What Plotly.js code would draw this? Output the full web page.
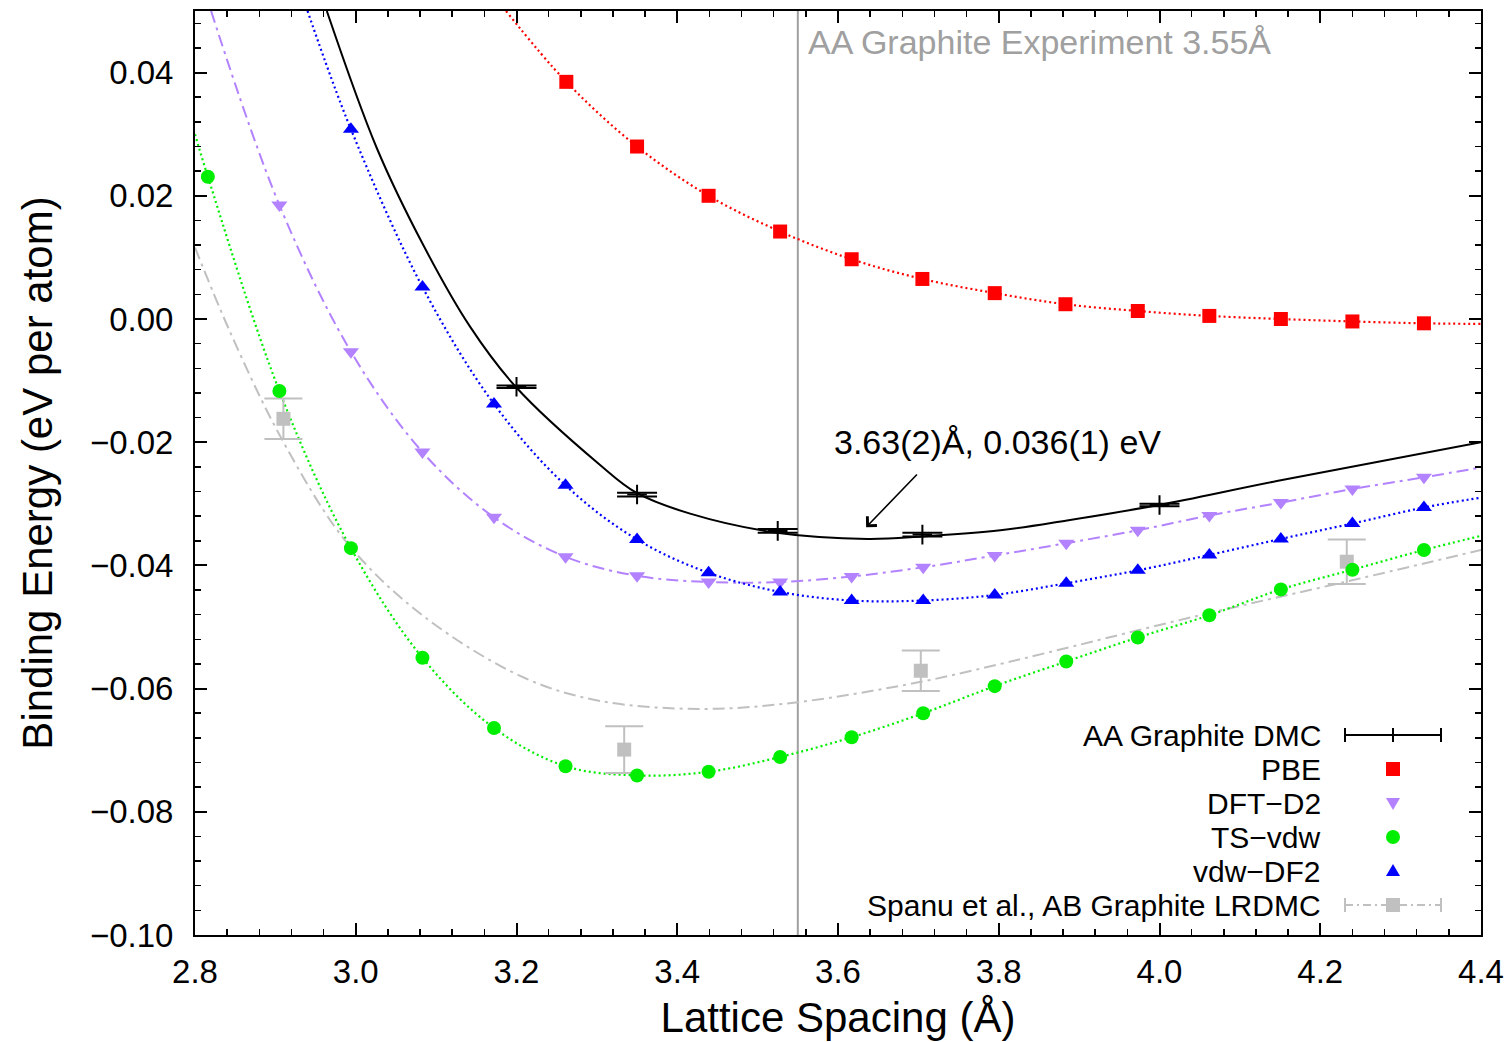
<!DOCTYPE html>
<html>
<head>
<meta charset="utf-8">
<script src="https://cdn.plot.ly/plotly-3.0.1.min.js"></script>
<style>html,body{margin:0;padding:0;background:#fff;}#chart{width:1509px;height:1042px;}</style>
</head>
<body>
<div id="chart"></div>
<script>
// ---- data ----
const pbeX = [3.262, 3.350, 3.439, 3.528, 3.617, 3.705, 3.795, 3.883, 3.973, 4.062, 4.151, 4.240, 4.329];
const pbeY = [0.0385, 0.0280, 0.0200, 0.0142, 0.0097, 0.0065, 0.0042, 0.0024, 0.0013, 0.0005, 0.0000, -0.0004, -0.0007];

const dftd2X = [2.905, 2.994, 3.083, 3.172, 3.261, 3.350, 3.439, 3.528, 3.617, 3.706, 3.795, 3.884, 3.973, 4.062, 4.151, 4.240, 4.329];
const dftd2Y = [0.0185, -0.0053, -0.0216, -0.0322, -0.0386, -0.0417, -0.0427, -0.0427, -0.0418, -0.0403, -0.0384, -0.0364, -0.0343, -0.0319, -0.0298, -0.0276, -0.0257];

const tsX = [2.816, 2.905, 2.994, 3.083, 3.172, 3.261, 3.350, 3.439, 3.528, 3.617, 3.706, 3.795, 3.884, 3.973, 4.062, 4.151, 4.240, 4.329];
const tsY = [0.0231, -0.0117, -0.0372, -0.0550, -0.0664, -0.0726, -0.0741, -0.0735, -0.0711, -0.0679, -0.0640, -0.0596, -0.0556, -0.0517, -0.0481, -0.0439, -0.0407, -0.0375];

const vdwX = [2.994, 3.083, 3.172, 3.261, 3.350, 3.439, 3.528, 3.617, 3.706, 3.795, 3.884, 3.973, 4.062, 4.151, 4.240, 4.329];
const vdwY = [0.0308, 0.0052, -0.0138, -0.0270, -0.0358, -0.0412, -0.0443, -0.0457, -0.0457, -0.0448, -0.0429, -0.0408, -0.0383, -0.0357, -0.0332, -0.0306];

const dmcX = [3.200, 3.350, 3.525, 3.705, 4.000];
const dmcY = [-0.0110, -0.0285, -0.0344, -0.0350, -0.0302];
const dmcErr = [0.0002, 0.0003, 0.0003, 0.0003, 0.0002];

const spanuX = [2.910, 3.334, 3.703, 4.233];
const spanuY = [-0.0162, -0.0699, -0.0571, -0.0394];
const spanuErr = [0.0033, 0.0038, 0.0033, 0.0036];

// fitted curves
const dmcFitX = [2.964, 3.026, 3.084, 3.142, 3.199, 3.304, 3.349, 3.416, 3.524, 3.637, 3.705, 3.802, 3.885, 3.999, 4.146, 4.400];
const dmcFitY = [0.0500, 0.0278, 0.0120, -0.0012, -0.0110, -0.0237, -0.0282, -0.0316, -0.0347, -0.0357, -0.0353, -0.0343, -0.0327, -0.0302, -0.0263, -0.0200];

const spanuFitX = [2.800, 2.844, 2.908, 2.989, 3.084, 3.209, 3.304, 3.432, 3.550, 3.703, 3.802, 3.875, 4.050, 4.237, 4.400];
const spanuFitY = [0.0116, -0.0022, -0.0195, -0.0363, -0.0482, -0.0582, -0.0620, -0.0633, -0.0622, -0.0589, -0.0560, -0.0537, -0.0481, -0.0425, -0.0375];

// ends of the DFT fit curves (beyond the computed points)
const pbeEndsX = [3.187, 4.400],  pbeEndsY = [0.0500, -0.0008];
const dftd2EndsX = [2.820, 4.400], dftd2EndsY = [0.0500, -0.0241];
const tsEndsX = [2.800, 4.400],   tsEndsY = [0.0300, -0.0352];
const vdwEndsX = [2.940, 4.400],  vdwEndsY = [0.0500, -0.0290];

const expSpacing = 3.55;
const minLabel = '3.63(2)Å, 0.036(1) eV';
const xTicks = [2.8, 3.0, 3.2, 3.4, 3.6, 3.8, 4.0, 4.2, 4.4];
const yTicks = [-0.10, -0.08, -0.06, -0.04, -0.02, 0.00, 0.02, 0.04];

const legendNames = ['AA Graphite DMC', 'PBE', 'DFT\u2212D2', 'TS\u2212vdw', 'vdw\u2212DF2', 'Spanu et al., AB Graphite LRDMC'];

// ---- styles ----
const FONT = 'Liberation Sans, Arial, Helvetica, sans-serif';
const RED = '#ff0000', PURPLE = '#b382ff', GREEN = '#00ee00', BLUE = '#0000ff', GREY = '#c0c0c0';
const DOT = '2px,3px';
const DASHDOT = '12px,5px,3px,5px';

function withEnds(ex, ey, x, y) {
  return { x: [ex[0]].concat(x, [ex[1]]), y: [ey[0]].concat(y, [ey[1]]) };
}

function fit(x, y, color, dash, width) {
  return { x: x, y: y, mode: 'lines', type: 'scatter', hoverinfo: 'skip', showlegend: false,
    line: { color: color, width: width || 2, dash: dash, shape: 'spline', smoothing: 1 } };
}

const pbeC = withEnds(pbeEndsX, pbeEndsY, pbeX, pbeY);
const d2C = withEnds(dftd2EndsX, dftd2EndsY, dftd2X, dftd2Y);
const tsC = withEnds(tsEndsX, tsEndsY, tsX, tsY);
const vdwC = withEnds(vdwEndsX, vdwEndsY, vdwX, vdwY);

const traces = [
  fit(spanuFitX, spanuFitY, GREY, DASHDOT, 2),
  fit(tsC.x, tsC.y, GREEN, DOT, 2.2),
  fit(d2C.x, d2C.y, PURPLE, DASHDOT, 2),
  fit(vdwC.x, vdwC.y, BLUE, DOT, 2.2),
  fit(pbeC.x, pbeC.y, RED, DOT, 2.2),
  fit(dmcFitX, dmcFitY, '#000000', 'solid', 2),
  { x: spanuX, y: spanuY, mode: 'markers', type: 'scatter', name: legendNames[5], showlegend: false,
    marker: { symbol: 'square', size: 14, color: GREY },
    error_y: { type: 'data', array: spanuErr, visible: true, color: GREY, thickness: 2, width: 19 } },
  { x: tsX, y: tsY, mode: 'markers', type: 'scatter', name: legendNames[3], showlegend: false,
    marker: { symbol: 'circle', size: 14, color: GREEN } },
  { x: dftd2X, y: dftd2Y, mode: 'markers', type: 'scatter', name: legendNames[2], showlegend: false,
    marker: { symbol: 'triangle-down', size: 14, color: PURPLE } },
  { x: vdwX, y: vdwY, mode: 'markers', type: 'scatter', name: legendNames[4], showlegend: false,
    marker: { symbol: 'triangle-up', size: 14, color: BLUE } },
  { x: pbeX, y: pbeY, mode: 'markers', type: 'scatter', name: legendNames[1], showlegend: false,
    marker: { symbol: 'square', size: 14, color: RED } },
  { x: dmcX, y: dmcY, mode: 'markers', type: 'scatter', name: legendNames[0], showlegend: false,
    marker: { symbol: 'cross-thin', size: 14, color: '#000', line: { color: '#000', width: 2 } },
    error_y: { type: 'data', array: dmcErr, visible: true, color: '#000', thickness: 2, width: 20 } }
];

// ---- legend drawn gnuplot-style (text right, sample to the right) ----
const L = 195, T = 11, PW = 1286, PH = 924;
const px = v => (v - L) / PW;
const py = v => (T + PH - v) / PH;
const rowY = [735, 769, 803, 837, 871, 905];
const textRight = 1323, sampleC = 1393, sampleL = 1345, sampleR = 1441, h = 7;

const shapes = [
  { type: 'line', xref: 'x', yref: 'paper', x0: expSpacing, x1: expSpacing, y0: 0, y1: 1,
    line: { color: '#a0a0a0', width: 2 }, layer: 'below' }
];
function seg(x0, y0, x1, y1, color, dash) {
  shapes.push({ type: 'line', xref: 'paper', yref: 'paper', x0: px(x0), x1: px(x1), y0: py(y0), y1: py(y1),
    line: { color: color, width: 2, dash: dash || 'solid' } });
}
// DMC sample
seg(sampleL, rowY[0], sampleR, rowY[0], '#000');
seg(sampleL, rowY[0] - h, sampleL, rowY[0] + h, '#000');
seg(sampleR, rowY[0] - h, sampleR, rowY[0] + h, '#000');
seg(sampleC, rowY[0] - h, sampleC, rowY[0] + h, '#000');
// PBE
shapes.push({ type: 'rect', xref: 'paper', yref: 'paper', x0: px(sampleC - h), x1: px(sampleC + h),
  y0: py(rowY[1] + h), y1: py(rowY[1] - h), fillcolor: RED, line: { width: 0 } });
// DFT-D2 (down triangle)
shapes.push({ type: 'path', xref: 'paper', yref: 'paper', fillcolor: PURPLE, line: { width: 0 },
  path: `M ${px(sampleC - h)} ${py(rowY[2] - 5)} L ${px(sampleC + h)} ${py(rowY[2] - 5)} L ${px(sampleC)} ${py(rowY[2] + 7)} Z` });
// TS-vdw circle
shapes.push({ type: 'circle', xref: 'paper', yref: 'paper', x0: px(sampleC - h), x1: px(sampleC + h),
  y0: py(rowY[3] + h), y1: py(rowY[3] - h), fillcolor: GREEN, line: { width: 0 } });
// vdw-DF2 (up triangle)
shapes.push({ type: 'path', xref: 'paper', yref: 'paper', fillcolor: BLUE, line: { width: 0 },
  path: `M ${px(sampleC - h)} ${py(rowY[4] + 5)} L ${px(sampleC + h)} ${py(rowY[4] + 5)} L ${px(sampleC)} ${py(rowY[4] - 7)} Z` });
// Spanu sample
seg(sampleL, rowY[5], sampleR, rowY[5], GREY, '8px,4px,2px,4px');
seg(sampleL, rowY[5] - h, sampleL, rowY[5] + h, GREY);
seg(sampleR, rowY[5] - h, sampleR, rowY[5] + h, GREY);
shapes.push({ type: 'rect', xref: 'paper', yref: 'paper', x0: px(sampleC - h), x1: px(sampleC + h),
  y0: py(rowY[5] + h), y1: py(rowY[5] - h), fillcolor: GREY, line: { width: 0 } });

const annotations = legendNames.map((t, i) => ({
  xref: 'paper', yref: 'paper', x: px(textRight), y: py(rowY[i]), xanchor: 'right', yanchor: 'middle',
  text: t, showarrow: false, font: { family: FONT, size: 30, color: '#000' }
}));
annotations.push({
  xref: 'x', yref: 'paper', x: expSpacing, y: py(42), xanchor: 'left', yanchor: 'middle', xshift: 8,
  text: 'AA Graphite Experiment 3.55Å', showarrow: false, font: { family: FONT, size: 34, color: '#a0a0a0' }
});
annotations.push({
  xref: 'x', yref: 'y', x: 3.799, y: -0.0200, xanchor: 'center', yanchor: 'middle',
  text: minLabel, showarrow: false, font: { family: FONT, size: 34, color: '#000' }
});
annotations.push({
  xref: 'x', yref: 'y', axref: 'x', ayref: 'y', x: 3.635, y: -0.0338, ax: 3.700, ay: -0.0250,
  text: '', showarrow: true, arrowhead: 4, arrowsize: 1.6, arrowwidth: 1.6, arrowcolor: '#000', standoff: 0, startstandoff: 0
});

const axisCommon = {
  showgrid: false, zeroline: false, showline: true, linecolor: '#000', linewidth: 2, mirror: 'allticks',
  ticks: 'inside', ticklen: 12, tickwidth: 2, tickcolor: '#000',
  tickfont: { family: FONT, size: 33, color: '#000' }
};

const layout = {
  width: 1509, height: 1042,
  margin: { l: 195, r: 28, t: 11, b: 107, pad: 0 },
  paper_bgcolor: '#fff', plot_bgcolor: '#fff',
  showlegend: false,
  font: { family: FONT, color: '#000' },
  xaxis: Object.assign({}, axisCommon, {
    range: [2.8, 4.4], tickmode: 'array', tickvals: xTicks, ticktext: xTicks.map(v => v.toFixed(1)),
    minor: { dtick: 0.04, tick0: 2.8, ticks: 'inside', ticklen: 6, tickwidth: 1.5, tickcolor: '#000' },
    ticklabelstandoff: 6,
    title: { text: 'Lattice Spacing (Å)', font: { family: FONT, size: 42, color: '#000' }, standoff: 14 }
  }),
  yaxis: Object.assign({}, axisCommon, {
    range: [-0.10, 0.05], tickmode: 'array', tickvals: yTicks,
    ticktext: yTicks.map(v => (v < 0 ? '\u2212' : '') + Math.abs(v).toFixed(2)),
    minor: { dtick: 0.004, tick0: 0, ticks: 'inside', ticklen: 6, tickwidth: 1.5, tickcolor: '#000' },
    ticklabelstandoff: 13,
    title: { text: 'Binding Energy (eV per atom)', font: { family: FONT, size: 42, color: '#000' }, standoff: 24 }
  }),
  shapes: shapes,
  annotations: annotations
};

Plotly.newPlot('chart', traces, layout, { staticPlot: true, displayModeBar: false });
</script>
</body>
</html>
